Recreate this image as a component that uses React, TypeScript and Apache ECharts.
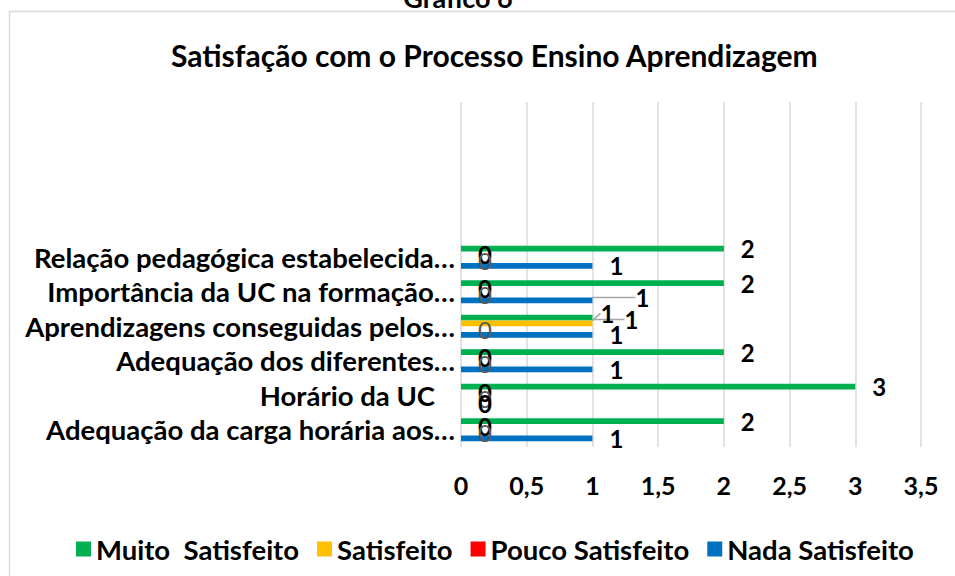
import React, { useEffect, useRef } from "react";
import * as echarts from "echarts";

const categories = [
  "Adequação da carga horária aos…",
  "Horário da UC",
  "Adequação dos diferentes…",
  "Aprendizagens conseguidas pelos…",
  "Importância da UC na formação…",
  "Relação pedagógica estabelecida…",
  "",
  "",
  "",
  "",
];
const seriesNames = ["Muito  Satisfeito", "Satisfeito", "Pouco Satisfeito", "Nada Satisfeito"];
const muitoSatisfeito = [2, 3, 2, 1, 2, 2];
const satisfeito = [0, 0, 0, 1, 0, 0];
const poucoSatisfeito = [0, 0, 0, 0, 0, 0];
const nadaSatisfeito = [1, 0, 1, 1, 1, 1];
const xTicks = [0, 0.5, 1, 1.5, 2, 2.5, 3, 3.5];

const colors = ["#00B050", "#FFC000", "#FF0000", "#0070C0"];
const FONT = "Lato";

export default function App() {
  const ref = useRef<HTMLDivElement>(null);
  useEffect(() => {
    document.body.style.margin = "0";
    const chart = echarts.init(ref.current!, null, { renderer: "svg" });
    const values = [muitoSatisfeito, satisfeito, poucoSatisfeito, nadaSatisfeito];
    const moved: Record<number, Record<number, [number, number]>> = {
      0: { 3: [15, 2] },
      1: { 3: [-9, -10] },
      3: { 4: [26, -3] },
    };
    const series = values.map((vals, si) => ({
      type: "bar",
      name: seriesNames[si],
      barGap: "0%",
      barCategoryGap: "33%",
      itemStyle: { color: colors[si] },
      data: vals.map((v, di) => ({
        value: v,
        labelLine: { show: !!(moved[si] && moved[si][di]) },
      })),
      label: {
        show: true,
        position: "right",
        distance: 17,
        fontFamily: FONT,
        fontSize: 24,
        fontWeight: si === 2 ? "normal" : "bold",
        color: si === 2 ? "#595959" : "#000000",
      },
      labelLine: { lineStyle: { color: "#a6a6a6", width: 1.5 } },
      labelLayout: (p: any) => {
        const m = moved[si] && moved[si][p.dataIndex];
        return m ? { dx: m[0], dy: m[1] } : {};
      },
    }));
    chart.setOption({
      animation: false,
      textStyle: { fontFamily: FONT },
      title: {
        text: "Satisfação com o Processo Ensino Aprendizagem",
        left: 166,
        top: 35,
        textStyle: { fontFamily: FONT, fontSize: 30, fontWeight: "bold", color: "#000" },
      },
      graphic: [
        {
          type: "rect",
          shape: { x: 9.5, y: 11.5, width: 1000, height: 700 },
          style: { fill: "none", stroke: "#d9d9d9", lineWidth: 1.5 },
          silent: true,
        },
        {
          type: "text",
          x: 458,
          y: -16,
          style: {
            text: "Gráfico 6",
            fontFamily: FONT,
            fontSize: 27,
            fontWeight: "bold",
            fill: "#000",
            align: "center",
          },
        },
      ],
      legend: {
        data: seriesNames,
        top: 530,
        left: 71,
        icon: "rect",
        itemWidth: 15,
        itemHeight: 15,
        itemGap: 18,
        textStyle: { fontFamily: FONT, fontSize: 27.5, fontWeight: "bold", color: "#000" },
      },
      grid: { left: 461, right: 34, top: 102, bottom: 129 },
      xAxis: {
        type: "value",
        min: xTicks[0],
        max: xTicks[xTicks.length - 1],
        interval: 0.5,
        axisLine: { show: false },
        axisTick: { show: false },
        splitLine: { lineStyle: { color: "#d9d9d9", width: 1.5 } },
        axisLabel: {
          margin: 25,
          fontFamily: FONT,
          fontSize: 25,
          fontWeight: "bold",
          color: "#000",
          formatter: (v: number) => String(v).replace(".", ","),
        },
      },
      yAxis: {
        type: "category",
        data: categories,
        axisLine: { show: false },
        axisTick: { show: false },
        splitLine: { show: false },
        axisLabel: {
          margin: 6,
          interval: 0,
          fontFamily: FONT,
          fontSize: 27.5,
          fontWeight: "bold",
          color: "#000",
          formatter: (v: string) => (v === "Horário da UC" ? "{h|" + v + "}" : v),
          rich: {
            h: { fontFamily: FONT, fontSize: 27.5, fontWeight: "bold", color: "#000", padding: [0, 20, 0, 0] },
          },
        },
      },
      series,
    });
    return () => chart.dispose();
  }, []);
  return <div ref={ref} style={{ width: 955, height: 576 }} />;
}
